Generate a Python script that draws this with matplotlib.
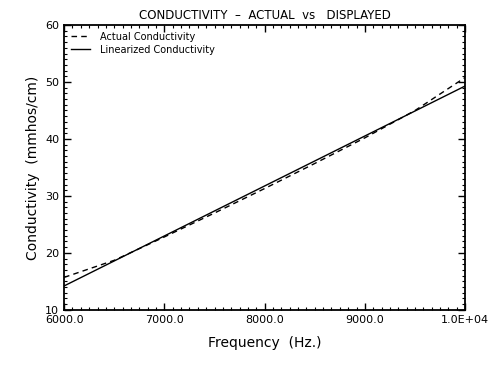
import matplotlib
matplotlib.use('Agg')
import matplotlib.pyplot as plt
from matplotlib.ticker import MultipleLocator, AutoMinorLocator

# data
freq = [6000, 6500, 7000, 7500, 8000, 8500, 9000, 9500, 10000]
actual = [15.7, 18.7, 22.8, 27.0, 31.3, 35.7, 40.2, 45.0, 50.8]
lin_freq = [6000, 10000]
linearized = [14.2, 49.3]

xticks = [6000, 7000, 8000, 9000, 10000]
xlabels = ['6000.0', '7000.0', '8000.0', '9000.0', '1.0E+04']

plt.rcParams['font.family'] = 'DejaVu Sans'

fig = plt.figure(figsize=(4.97, 3.68), dpi=100)
ax = fig.add_axes([0.129, 0.158, 0.807, 0.774])

ax.plot(freq, actual, color='black', linestyle=(0, (4, 3)), linewidth=1.0,
        label='Actual Conductivity')
ax.plot(lin_freq, linearized, color='black', linestyle='-', linewidth=1.0,
        label='Linearized Conductivity')

ax.set_xlim(6000, 10000)
ax.set_ylim(10, 60)
ax.set_xticks(xticks)
ax.set_xticklabels(xlabels)
ax.xaxis.set_minor_locator(AutoMinorLocator(12))
ax.yaxis.set_major_locator(MultipleLocator(10))
ax.yaxis.set_minor_locator(MultipleLocator(1))

ax.tick_params(which='both', direction='in', top=True, right=True, labelsize=8)
ax.tick_params(which='major', length=5, width=1.0)
ax.tick_params(which='minor', length=2.5, width=0.8)
for s in ax.spines.values():
    s.set_linewidth(1.3)

ax.set_title('CONDUCTIVITY  \u2013  ACTUAL  vs   DISPLAYED', fontsize=8.5, pad=4)
ax.set_xlabel('Frequency  (Hz.)', fontsize=10, labelpad=8)
ax.set_ylabel('Conductivity  (mmhos/cm)', fontsize=10, labelpad=4)

ax.legend(loc='upper left', frameon=False, fontsize=7, handlelength=2.0,
          borderaxespad=0.3, labelspacing=0.3, handletextpad=1.0)

fig.savefig('out.png', dpi=100)
